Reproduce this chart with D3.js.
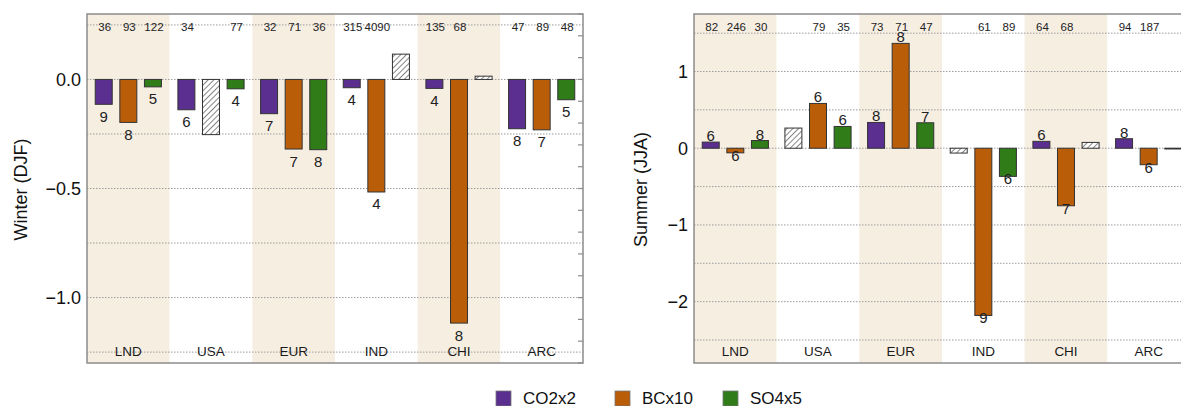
<!DOCTYPE html>
<html>
<head>
<meta charset="utf-8">
<script src="https://cdn.jsdelivr.net/npm/d3@7"></script>
<style>
  body { margin: 0; background: #fff; }
  svg { display: block; font-family: "Liberation Sans", Arial, sans-serif; }
</style>
</head>
<body>
<div id="outer"></div>
<script>
////////// Data //////////
const regions = ['LND', 'USA', 'EUR', 'IND', 'CHI', 'ARC'];
const shadedRegions = ['LND', 'EUR', 'CHI'];
const seriesNames = ['CO2x2', 'BCx10', 'SO4x5'];
const seriesColors = ['#5b2f8f', '#b95d09', '#2f7c19'];

// Winter (DJF) responses
const winterCO2 = [-0.114, -0.139, -0.157, -0.038, -0.041, -0.226];
const winterBC = [-0.197, -0.253, -0.319, -0.516, -1.117, -0.231];
const winterSO4 = [-0.034, -0.043, -0.322, 0.116, 0.015, -0.093];
// model agreement counts ('' = not significant -> hatched bar)
const winterAgreeCO2 = ['9', '6', '7', '4', '4', '8'];
const winterAgreeBC = ['8', '', '7', '4', '8', '7'];
const winterAgreeSO4 = ['5', '4', '8', '', '', '5'];
// numbers printed along the top
const winterTopCO2 = ['36', '34', '32', '315', '135', '47'];
const winterTopBC = ['93', '', '71', '4090', '68', '89'];
const winterTopSO4 = ['122', '77', '36', '', '', '48'];

// Summer (JJA) responses
const summerCO2 = [0.08, 0.263, 0.336, -0.063, 0.09, 0.124];
const summerBC = [-0.06, 0.584, 1.367, -2.18, -0.75, -0.215];
const summerSO4 = [0.10, 0.284, 0.332, -0.367, 0.076, -0.01];
const summerAgreeCO2 = ['6', '', '8', '', '6', '8'];
const summerAgreeBC = ['6', '6', '8', '9', '7', '6'];
const summerAgreeSO4 = ['8', '6', '7', '6', '', ''];
const summerTopCO2 = ['82', '', '73', '', '64', '94'];
const summerTopBC = ['246', '79', '71', '61', '68', '187'];
const summerTopSO4 = ['30', '35', '47', '89', '', ''];

const winterTicks = [0, -0.5, -1.0];
const summerTicks = [1, 0, -1, -2];


////////// Layout //////////
const W = 1181, H = 406;
const frameColor = '#8c8c8c';
const gridColor = '#9c9c9c';
const shadeColor = '#f7eee2';

const svg = d3.select('#outer').append('svg')
  .attr('width', W)
  .attr('height', H);

const defs = svg.append('defs');
defs.append('pattern')
  .attr('id', 'hatch')
  .attr('patternUnits', 'userSpaceOnUse')
  .attr('width', 4)
  .attr('height', 4)
  .attr('patternTransform', 'rotate(45)')
  .call(p => p.append('rect').attr('width', 4).attr('height', 4).attr('fill', '#fff'))
  .append('line')
  .attr('x1', 0).attr('y1', 0).attr('x2', 0).attr('y2', 4)
  .attr('stroke', '#444')
  .attr('stroke-width', 1.3);

const minus = s => s.replace('-', '\u2212');

////////////////////////////////////////////////////////////////
// Panel
////////////////////////////////////////////////////////////////
const drawPanel = cfg => {
  const { x0, x1, y0, y1, domain, gridStep, minorStep, ticks, tickFmt, title, titleX,
    values, agree, top, negOff } = cfg;

  const g = svg.append('g');

  const x = d3.scaleBand().domain(regions).range([x0, x1]);
  const xInner = d3.scaleBand().domain(seriesNames).range([0, x.bandwidth()])
    .paddingInner(0.31).paddingOuter(0.335);
  const y = d3.scaleLinear().domain(domain).range([y1, y0]);

  // shaded region bands
  g.append('g').selectAll('rect')
    .data(regions)
    .join('rect')
    .attr('x', d => x(d))
    .attr('y', y0)
    .attr('width', x.bandwidth())
    .attr('height', y1 - y0)
    .attr('fill', d => shadedRegions.includes(d) ? shadeColor : '#fff');

  // dotted grid
  const gridVals = d3.range(Math.ceil(domain[0] / gridStep) * gridStep, domain[1] + 1e-9, gridStep);
  g.append('g').selectAll('line')
    .data(gridVals)
    .join('line')
    .attr('x1', x0).attr('x2', x1)
    .attr('y1', d => y(d)).attr('y2', d => y(d))
    .attr('stroke', gridColor)
    .attr('stroke-width', 1)
    .attr('stroke-dasharray', '1.5,1.5');

  // bars
  const barData = [];
  regions.forEach((r, i) => {
    seriesNames.forEach((s, j) => {
      barData.push({ region: r, series: s, j, value: values[j][i], agree: agree[j][i], top: top[j][i] });
    });
  });

  const bars = g.append('g').selectAll('g')
    .data(barData)
    .join('g')
    .attr('transform', d => `translate(${x(d.region) + xInner(d.series)},0)`);

  bars.append('rect')
    .attr('y', d => y(Math.max(0, d.value)))
    .attr('width', xInner.bandwidth())
    .attr('height', d => Math.abs(y(d.value) - y(0)))
    .attr('fill', d => d.agree === '' ? 'url(#hatch)' : seriesColors[d.j])
    .attr('stroke', '#333')
    .attr('stroke-width', 1);

  bars.filter(d => d.agree !== '')
    .append('text')
    .attr('x', xInner.bandwidth() / 2)
    .attr('y', d => d.value < 0 ? y(d.value) + negOff : y(d.value) - 1)
    .attr('text-anchor', 'middle')
    .style('font-size', '15px')
    .attr('fill', '#222')
    .text(d => d.agree);

  bars.filter(d => d.top !== '')
    .append('text')
    .attr('x', xInner.bandwidth() / 2 + 1)
    .attr('y', 31)
    .attr('text-anchor', 'middle')
    .style('font-size', '11.5px')
    .attr('fill', '#222')
    .text(d => d.top);

  // region names
  g.append('g').selectAll('text')
    .data(regions)
    .join('text')
    .attr('x', d => x(d) + x.bandwidth() / 2)
    .attr('y', 356)
    .attr('text-anchor', 'middle')
    .style('font-size', '13.5px')
    .attr('fill', '#1a1a1a')
    .text(d => d);

  // y tick labels
  g.append('g').selectAll('text')
    .data(ticks)
    .join('text')
    .attr('x', x0 - 6)
    .attr('y', d => y(d) + 6.5)
    .attr('text-anchor', 'end')
    .style('font-size', '18px')
    .attr('fill', '#111')
    .text(d => minus(d3.format(tickFmt)(d)));

  // minor ticks on the right edge
  const minorVals = d3.range(Math.ceil(domain[0] / minorStep) * minorStep, domain[1] + 1e-9, minorStep);
  g.append('g').selectAll('line')
    .data(minorVals)
    .join('line')
    .attr('x1', x1 - 5).attr('x2', x1)
    .attr('y1', d => y(d)).attr('y2', d => y(d))
    .attr('stroke', frameColor)
    .attr('stroke-width', 1.2);

  // frame
  g.append('rect')
    .attr('x', x0).attr('y', y0)
    .attr('width', x1 - x0).attr('height', y1 - y0)
    .attr('fill', 'none')
    .attr('stroke', frameColor)
    .attr('stroke-width', 1.5);

  // axis title
  g.append('text')
    .attr('transform', `translate(${titleX},${(y0 + y1) / 2 + 1}) rotate(-90)`)
    .attr('text-anchor', 'middle')
    .attr('dominant-baseline', 'middle')
    .style('font-size', '18px')
    .attr('fill', '#111')
    .text(title);
};

drawPanel({
  x0: 87, x1: 583, y0: 14, y1: 363,
  domain: [-1.3, 0.3], gridStep: 0.25, minorStep: 0.1,
  ticks: winterTicks, tickFmt: '.1f',
  title: 'Winter (DJF)', titleX: 22,
  values: [winterCO2, winterBC, winterSO4],
  agree: [winterAgreeCO2, winterAgreeBC, winterAgreeSO4],
  top: [winterTopCO2, winterTopBC, winterTopSO4],
  negOff: 17.5
});

drawPanel({
  x0: 694, x1: 1190, y0: 14, y1: 363,
  domain: [-2.8, 1.75], gridStep: 0.5, minorStep: 0.25,
  ticks: summerTicks, tickFmt: 'd',
  title: 'Summer (JJA)', titleX: 642,
  values: [summerCO2, summerBC, summerSO4],
  agree: [summerAgreeCO2, summerAgreeBC, summerAgreeSO4],
  top: [summerTopCO2, summerTopBC, summerTopSO4],
  negOff: 8
});

////////////////////////////////////////////////////////////////
// Legend
////////////////////////////////////////////////////////////////
const legendX = [496, 615, 723];
const legend = svg.append('g').selectAll('g')
  .data(seriesNames)
  .join('g')
  .attr('transform', (d, i) => `translate(${legendX[i]},391)`);

legend.append('rect')
  .attr('width', 15).attr('height', 15)
  .attr('fill', (d, i) => seriesColors[i])
  .attr('stroke', '#777')
  .attr('stroke-width', 0.8);

legend.append('text')
  .attr('x', 27)
  .attr('y', 13)
  .style('font-size', '17px')
  .attr('fill', '#111')
  .text(d => d);
</script>
</body>
</html>
